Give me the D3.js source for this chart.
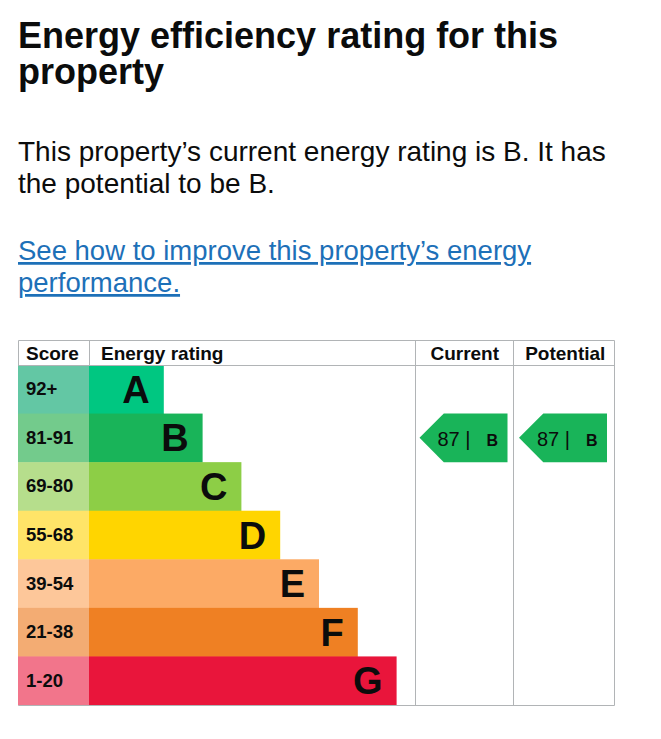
<!DOCTYPE html>
<html><head><meta charset="utf-8">
<script src="https://cdn.jsdelivr.net/npm/d3@7"></script>
<style>html,body{margin:0;padding:0;background:#fff;}svg{display:block;}</style>
</head><body>
<svg id="c" width="661" height="739"></svg>
<script>
const titleLines = ["Energy efficiency rating for this", "property"];
const bodyLines = ["This property’s current energy rating is B. It has", "the potential to be B."];
const linkLines = ["See how to improve this property’s energy", "performance."];
const headers = ["Score", "Energy rating", "Current", "Potential"];
const bands = ["A", "B", "C", "D", "E", "F", "G"];
const scoreRanges = ["92+", "81-91", "69-80", "55-68", "39-54", "21-38", "1-20"];
const bandMin = [92, 81, 69, 55, 39, 21, 1];
const bandColors = ["#00c781", "#19b459", "#8dce46", "#ffd500", "#fcaa65", "#ef8023", "#e9153b"];
const scoreColors = ["#63c7a4", "#73cb8c", "#b6de8c", "#ffe468", "#fdc79a", "#f3ac73", "#f2758b"];
const ratings = [{label: "Current", score: 87}, {label: "Potential", score: 87}];

(function () {
const svg = d3.select("#c");
const font = "'Liberation Sans', Arial, Helvetica, sans-serif";
const txt = "#0b0c0c";

const title = svg.append("text").attr("class", "title")
  .attr("font-family", font).attr("font-weight", 700).attr("font-size", 36).attr("fill", txt);
title.selectAll("tspan").data(titleLines).join("tspan")
  .attr("x", 18).attr("y", (d, i) => 47.5 + i * 36).text(d => d);

svg.selectAll("text.body").data(bodyLines).join("text").attr("class", "body")
  .attr("x", 18).attr("y", (d, i) => 161 + i * 32)
  .attr("font-family", font).attr("font-size", 28)
  .attr("fill", txt).text(d => d);

svg.selectAll("text.link").data(linkLines).join("text").attr("class", "link")
  .attr("x", 18).attr("y", (d, i) => 260 + i * 32)
  .attr("font-family", font).attr("font-size", 27.5)
  .attr("fill", "#1d70b8").attr("text-decoration", "underline").text(d => d);

const left = 18, scoreRight = 89, barCol = 415, curRight = 513, right = 614;
const tableTop = 340, headBottom = 365, tableBottom = 705;
const y = d3.scaleBand().domain(bands).range([headBottom, tableBottom]);
const xBar = d3.scaleLinear().domain([0, 7]).range([scoreRight + 36, scoreRight + 36 + 271.6]);
const cols = d3.scaleBand().domain(ratings.map(r => r.label)).range([barCol, right]);
const border = "#b1b4b6";

const g = svg.append("g");
g.selectAll("rect.score").data(bands).join("rect").attr("class", "score")
  .attr("x", left).attr("y", d => y(d)).attr("width", scoreRight - left).attr("height", y.bandwidth() + 0.5)
  .attr("fill", (d, i) => scoreColors[i]);
g.selectAll("rect.bar").data(bands).join("rect").attr("class", "bar")
  .attr("x", scoreRight).attr("y", d => y(d)).attr("width", (d, i) => xBar(i + 1) - scoreRight).attr("height", y.bandwidth() + 0.5)
  .attr("fill", (d, i) => bandColors[i]);
g.selectAll("text.score").data(scoreRanges).join("text").attr("class", "score")
  .attr("x", 26).attr("y", (d, i) => y(bands[i]) + y.bandwidth() / 2 + 6)
  .attr("font-family", font).attr("font-weight", 700).attr("font-size", 18.5).attr("fill", txt).text(d => d);
g.selectAll("text.letter").data(bands).join("text").attr("class", "letter")
  .attr("x", (d, i) => xBar(i + 1) - 14).attr("y", d => y(d) + y.bandwidth() / 2 + 13.5)
  .attr("text-anchor", "end")
  .attr("font-family", font).attr("font-weight", 700).attr("font-size", 38).attr("fill", txt).text(d => d);

const lines = [
  [left, tableTop, right, tableTop], [left, headBottom, right, headBottom], [left, tableBottom, right, tableBottom],
  [left, tableTop, left, headBottom], [scoreRight, tableTop, scoreRight, headBottom],
  [barCol, tableTop, barCol, tableBottom], [curRight, tableTop, curRight, tableBottom], [right, tableTop, right, tableBottom]
];
g.selectAll("line").data(lines).join("line")
  .attr("x1", d => d[0] + 0.5).attr("y1", d => d[1] + 0.5).attr("x2", d => d[2] + 0.5).attr("y2", d => d[3] + 0.5)
  .attr("stroke", border).attr("stroke-width", 1);

const headX = [26, 101, cols("Current") + cols.bandwidth() / 2, cols("Potential") + cols.bandwidth() / 2 + 1];
g.selectAll("text.head").data(headers).join("text").attr("class", "head")
  .attr("x", (d, i) => headX[i]).attr("y", 360)
  .attr("text-anchor", (d, i) => i < 2 ? "start" : "middle")
  .attr("font-family", font).attr("font-weight", 700).attr("font-size", 19).attr("fill", txt).text(d => d);

const bandOf = s => bands[bandMin.findIndex(m => s >= m)];
ratings.forEach(r => {
  const b = bandOf(r.score);
  const bi = bands.indexOf(b);
  const x0 = cols(r.label) + 4.5, x1 = x0 + 88;
  const y0 = y(b), h = y.bandwidth(), y1 = y0 + h, ym = y0 + h / 2;
  const path = d3.path();
  path.moveTo(x0, ym); path.lineTo(x0 + h / 2, y0); path.lineTo(x1, y0);
  path.lineTo(x1, y1); path.lineTo(x0 + h / 2, y1); path.closePath();
  g.append("path").attr("d", path.toString()).attr("fill", bandColors[bi]);
  const t = g.append("text").attr("y", ym + 8).attr("font-family", font).attr("fill", txt);
  t.append("tspan").attr("x", x0 + 18).attr("font-size", 20).text(r.score + " |");
  t.append("tspan").attr("x", x0 + 67).attr("font-size", 16).attr("font-weight", 700).text(b);
});
})();
</script>
</body></html>
